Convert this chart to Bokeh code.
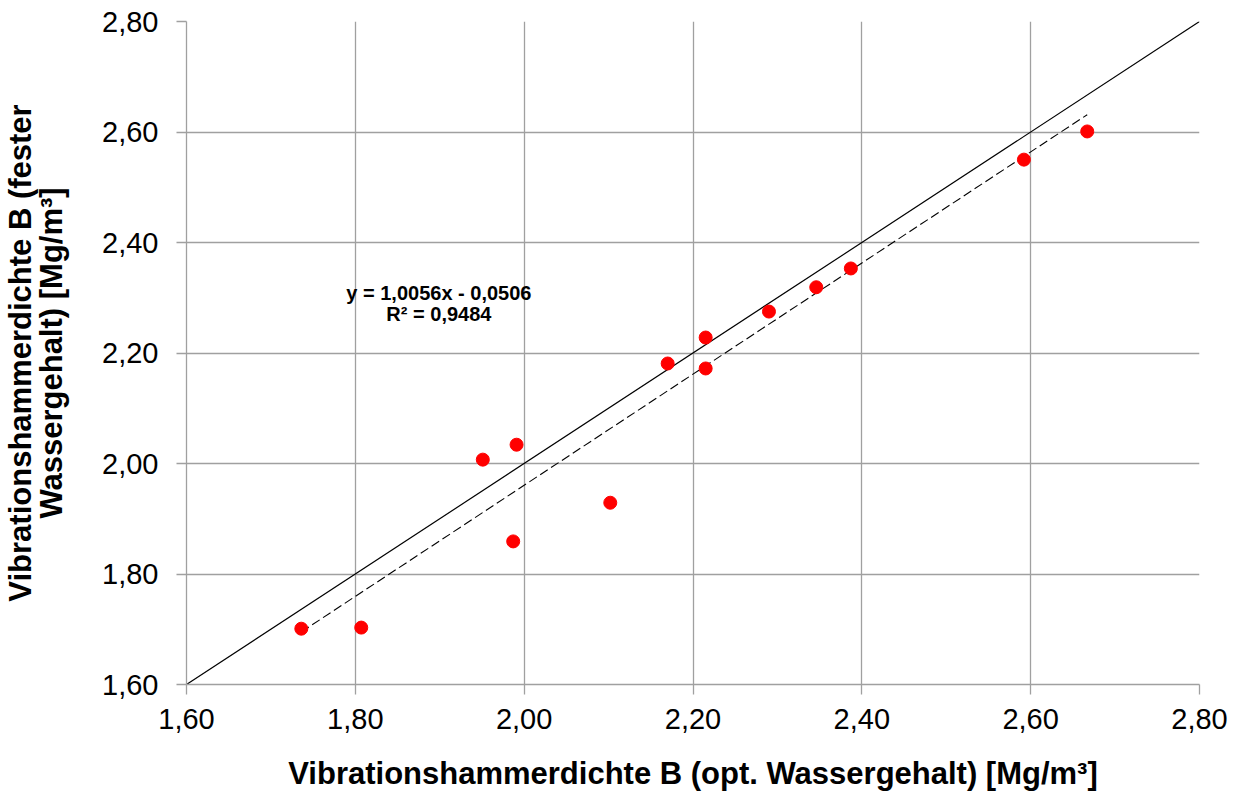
from bokeh.embed import file_html
from bokeh.models import ColumnDataSource, FixedTicker, Label
from bokeh.plotting import figure
from bokeh.resources import INLINE

# Density pairs: optimal water content (x) vs. fixed water content (y), Mg/m³
dens_opt = [1.736, 1.807, 1.951, 1.991, 1.987, 2.102, 2.170, 2.215, 2.215,
            2.290, 2.346, 2.387, 2.592, 2.667]
dens_fixed = [1.701, 1.703, 2.007, 2.034, 1.859, 1.929, 2.181, 2.228, 2.172,
              2.275, 2.319, 2.353, 2.550, 2.601]

# Linear regression reported on the chart
slope = 1.0056
intercept = -0.0506
r_squared = 0.9484

tick_values = [1.6, 1.8, 2.0, 2.2, 2.4, 2.6, 2.8]
tick_labels = ["1,60", "1,80", "2,00", "2,20", "2,40", "2,60", "2,80"]

x_title = "Vibrationshammerdichte B (opt. Wassergehalt) [Mg/m³]"
y_title = "Vibrationshammerdichte B (fester\nWassergehalt) [Mg/m³]"

FONT = "Liberation Sans"
GRID = "#a0a0a0"

p = figure(width=1239, height=796, output_backend="svg", toolbar_location=None,
           x_range=(1.6, 2.8), y_range=(1.6, 2.8),
           min_border_left=185, min_border_right=40,
           min_border_top=21, min_border_bottom=112)
p.outline_line_color = None
p.background_fill_color = "white"

for ax in (p.xaxis[0], p.yaxis[0]):
    ax.ticker = FixedTicker(ticks=tick_values)
    ax.major_label_overrides = dict(zip(tick_values, tick_labels))
    ax.major_label_text_font = FONT
    ax.major_label_text_font_size = "29px"
    ax.major_label_text_color = "black"
    ax.axis_line_color = GRID
    ax.axis_line_width = 1.3
    ax.major_tick_line_color = GRID
    ax.major_tick_line_width = 1.3
    ax.major_tick_in = 0
    ax.major_tick_out = 10
    ax.minor_tick_line_color = None
    ax.axis_label_text_font = FONT
    ax.axis_label_text_font_size = "31px"
    ax.axis_label_text_font_style = "bold"
    ax.axis_label_text_color = "black"

p.yaxis[0].major_label_standoff = 18
p.xaxis[0].major_label_standoff = 14

p.xaxis[0].axis_label = x_title
p.xaxis[0].axis_label_standoff = 24
p.yaxis[0].axis_label = y_title
p.yaxis[0].axis_label_text_line_height = 0.88
p.yaxis[0].axis_label_standoff = 30

for g in (p.xgrid[0], p.ygrid[0]):
    g.ticker = FixedTicker(ticks=tick_values)
    g.grid_line_color = GRID
    g.grid_line_width = 1.3

# 1:1 reference line
p.line(x=[tick_values[0], tick_values[-1]], y=[tick_values[0], tick_values[-1]],
       line_color="black", line_width=1.2)

# regression line across the data range
x_fit = [min(dens_opt), max(dens_opt)]
y_fit = [slope * v + intercept for v in x_fit]
p.line(x=x_fit, y=y_fit, line_color="black", line_width=1.1, line_dash="9 4")

src = ColumnDataSource(dict(x=dens_opt, y=dens_fixed))
p.scatter("x", "y", source=src, size=13, fill_color="#ff0000", line_color="#ff0000")

eq_1 = "y = {:.4f}x - {:.4f}".format(slope, -intercept).replace(".", ",")
eq_2 = "R² = {:.4f}".format(r_squared).replace(".", ",")
for txt, yv in ((eq_1, 2.3095), (eq_2, 2.2697)):
    p.add_layout(Label(x=1.899, y=yv, text=txt, text_font=FONT,
                       text_font_size="20px", text_font_style="bold",
                       text_color="black",
                       text_align="center", text_baseline="middle"))

open("out.html", "w").write(file_html(p, INLINE))
